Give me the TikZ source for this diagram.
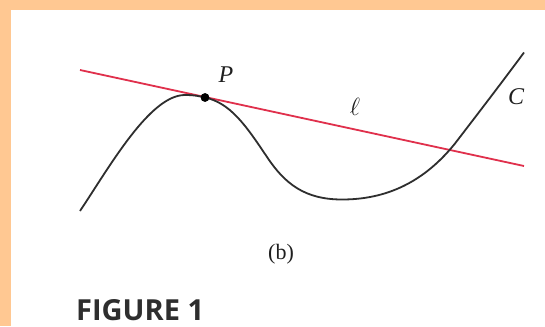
\documentclass[tikz,border=0pt]{standalone}
\usepackage{fontspec}
\setmainfont{Liberation Serif}
\newfontfamily\figfont{Open Sans}
\definecolor{peach}{HTML}{FFC892}
\definecolor{tanline}{HTML}{E0304C}
\definecolor{curvegray}{HTML}{2E2E2E}
\begin{document}
\begin{tikzpicture}[x=1pt,y=-1pt,
  lbl/.style={inner sep=0pt, text=black!88},
  crv/.style={draw=curvegray, line width=1.8pt, line join=round},
  tline/.style={draw=tanline, line width=1.8pt}]
\useasboundingbox (0,0) rectangle (545,326);
\fill[peach] (0,0) rectangle (545,326);
\fill[white] (11,10) rectangle (545,326);
% tangent line
\coordinate (l1) at (80,70);
\coordinate (l2) at (524,166);
\draw[tline] (l1) -- (l2);
% curve C
\coordinate (c0) at (80,211);
\coordinate (c1) at (185,95);
\coordinate (c3) at (267,157);
\coordinate (c4) at (342,199.5);
\coordinate (c5) at (455,143.5);
\coordinate (c6) at (524,52.5);
\node[circle, fill=black, inner sep=0pt, minimum size=8.5pt] (P) at (205,97.5) {};
\draw[crv] (c0) .. controls (110,166) and (150,95) .. (c1)
  .. controls (195,95) and (200,96.4) .. (P.center)
  .. controls (230,103) and (245,124) .. (c3)
  .. controls (285,184) and (305,199.5) .. (c4)
  .. controls (380,199.5) and (420,187) .. (c5)
  .. controls (473,120) and (500,85) .. (c6);
\node[circle, fill=black, inner sep=0pt, minimum size=8.5pt] at (P) {};
\node[lbl, font=\fontsize{24}{24}\selectfont\itshape] (Plbl) at (226,75) {P};
\node[lbl, font=\fontsize{25}{25}\selectfont] (ell) at (355,107) {$\ell$};
\node[lbl, font=\fontsize{24}{24}\selectfont\itshape] (Clbl) at (516,97) {C};
\node[lbl, font=\fontsize{22}{22}\selectfont] (b) at (281,254) {(b)};
\node[lbl, anchor=base west, text=black!82, font=\fontsize{29}{29}\selectfont\figfont\bfseries] (fig) at (76,320) {FIGURE 1};
\end{tikzpicture}
\end{document}
